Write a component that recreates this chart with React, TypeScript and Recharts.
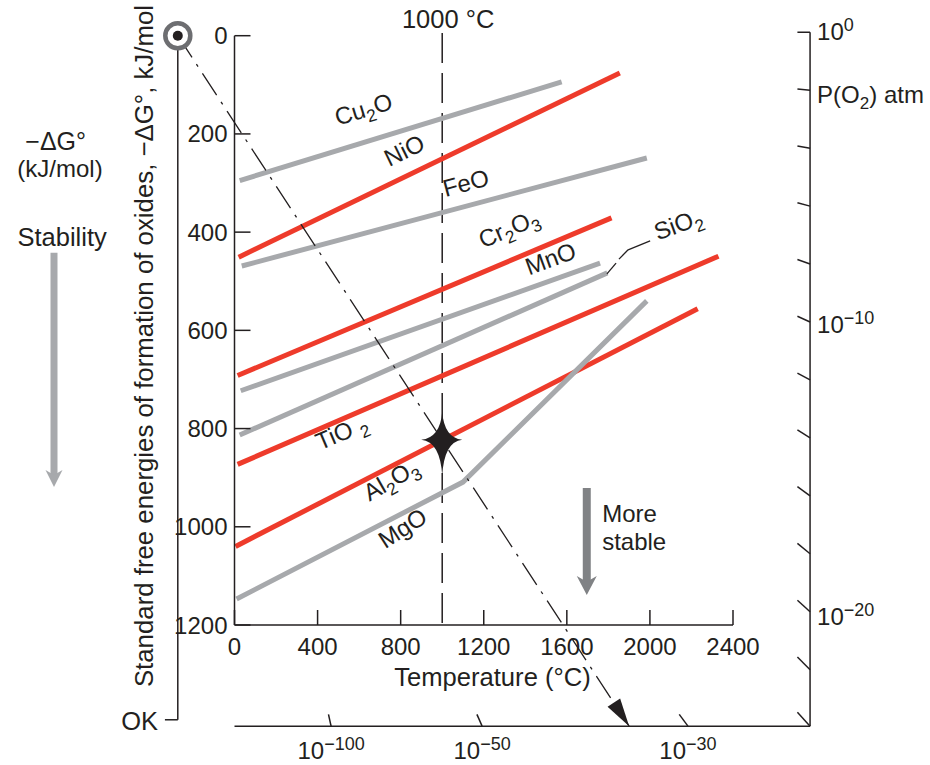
import React from 'react';
import { ComposedChart, Line, XAxis, YAxis, ReferenceLine, ReferenceDot } from 'recharts';

const FONT = '"Liberation Sans", Arial, Helvetica, sans-serif';
const INK = '#231f20';
const RED = '#ee3b2b';
const GREY = '#a7a9ac';

// Axis ticks
const tempTicks = [0, 400, 800, 1200, 1600, 2000, 2400];
const energyTicks = [0, 200, 400, 600, 800, 1000, 1200];

// Oxide lines: T (°C) vs -ΔG° (kJ/mol O2)
const cu2o = [{ T: 25, G: 295 }, { T: 1575, G: 94 }];
const nio = [{ T: 20, G: 451 }, { T: 1855, G: 76 }];
const feo = [{ T: 35, G: 469 }, { T: 1985, G: 249 }];
const cr2o3 = [{ T: 15, G: 692 }, { T: 1815, G: 371 }];
const mno = [{ T: 30, G: 723 }, { T: 1760, G: 463 }];
const sio2 = [{ T: 25, G: 813 }, { T: 1795, G: 483 }];
const tio2 = [{ T: 15, G: 873 }, { T: 2330, G: 449 }];
const al2o3 = [{ T: 5, G: 1040 }, { T: 2230, G: 556 }];
const mgo = [{ T: 10, G: 1147 }, { T: 1100, G: 909 }, { T: 1985, G: 540 }];

// Nomogram: origin at 0 K, P(O2) scales
const zeroK = -273;
const starPoint = { T: 1000, G: 823 };
const rayEnd = { T: 1900, G: 1406 };
const po2RightT = 2771;
const po2BottomG = 1406;
const po2RightTicksG = [-7, 111, 229, 347, 465, 583, 701, 819, 937, 1055, 1173, 1291, 1406];
const po2BottomTicksT = [465, 1192, 2183];
const po2BottomLabels = ['−100', '−50', '−30'];

const series = [
  { name: 'Cu2O', data: cu2o, color: GREY },
  { name: 'NiO', data: nio, color: RED },
  { name: 'FeO', data: feo, color: GREY },
  { name: 'Cr2O3', data: cr2o3, color: RED },
  { name: 'MnO', data: mno, color: GREY },
  { name: 'SiO2', data: sio2, color: GREY },
  { name: 'TiO2', data: tio2, color: RED },
  { name: 'Al2O3', data: al2o3, color: RED },
  { name: 'MgO', data: mgo, color: GREY },
];

type Part = [string, boolean?];
const oxideLabels: { parts: Part[]; T: number; G: number; angle: number }[] = [
  { parts: [['Cu'], ['2', true], ['O']], T: 633, G: 166, angle: -17 },
  { parts: [['NiO']], T: 835, G: 249, angle: -26 },
  { parts: [['FeO']], T: 1124, G: 316, angle: -15 },
  { parts: [['Cr'], ['2', true], ['O'], ['3', true]], T: 1336, G: 408, angle: -23 },
  { parts: [['MnO']], T: 1535, G: 470, angle: -20 },
  { parts: [['SiO'], ['2', true]], T: 2150, G: 400, angle: -20 },
  { parts: [['TiO '], ['2', true]], T: 532, G: 823, angle: -23 },
  { parts: [['Al'], ['2', true], ['O'], ['3', true]], T: 773, G: 919, angle: -30 },
  { parts: [['MgO']], T: 831, G: 1017, angle: -33 },
];

const chem = (parts: Part[], size: number) => {
  let shifted = false;
  return parts.map(([s, sub], i) => {
    if (sub) {
      const el = (
        <tspan key={i} dy={shifted ? 0 : 6} fontSize={size * 0.72}>
          {s}
        </tspan>
      );
      shifted = true;
      return el;
    }
    const el = (
      <tspan key={i} dy={shifted ? -6 : 0}>
        {s}
      </tspan>
    );
    shifted = false;
    return el;
  });
};

const sup = (base: string, exp: string) => [
  <tspan key="b">{base}</tspan>,
  <tspan key="e" dy={-9} fontSize={18}>
    {exp}
  </tspan>,
];

const note = (
  key: string,
  T: number,
  G: number,
  content: React.ReactNode,
  opts: { anchor?: string; rotate?: number; size?: number; dy?: string } = {}
) => (
  <ReferenceDot
    key={key}
    x={T}
    y={G}
    r={0}
    ifOverflow="visible"
    shape={(p: any) => (
      <text
        x={p.cx}
        y={p.cy}
        dy={opts.dy || 0}
        textAnchor={opts.anchor || 'middle'}
        fontSize={opts.size || 24}
        fontFamily={FONT}
        fill={INK}
        transform={opts.rotate ? `rotate(${opts.rotate} ${p.cx} ${p.cy})` : undefined}
      >
        {content}
      </text>
    )}
  />
);

const seg = (key: string, pts: { x: number; y: number }[], style: any) => (
  <ReferenceLine key={key} segment={pts as any} ifOverflow="visible" {...style} />
);

const towardOrigin = (T: number, G: number, f: number) => ({ x: T + (zeroK - T) * f, y: G * (1 - f) });

const XTick = (p: any) => {
  const { x, y, payload } = p;
  return (
    <g>
      <line x1={x} x2={x} y1={y} y2={y - 15} stroke={INK} strokeWidth={1.5} />
      <text x={x} y={y + 30} textAnchor="middle" fontSize={24} fontFamily={FONT} fill={INK}>
        {payload.value}
      </text>
    </g>
  );
};

const YTick = (p: any) => {
  const { x, y, payload } = p;
  return (
    <g>
      <line x1={x} x2={x + 16} y1={y} y2={y} stroke={INK} strokeWidth={1.5} />
      <text x={x - 7} y={y + 8.5} textAnchor="end" fontSize={24} fontFamily={FONT} fill={INK}>
        {payload.value}
      </text>
    </g>
  );
};

const downHead = (key: string, T: number, G: number, half: number, len: number, color: string) => (
  <ReferenceDot
    key={key}
    x={T}
    y={G}
    r={0}
    ifOverflow="visible"
    shape={(p: any) => (
      <polygon
        points={`${p.cx},${p.cy} ${p.cx - half},${p.cy - len} ${p.cx},${p.cy - len * 0.7} ${p.cx + half},${p.cy - len}`}
        fill={color}
      />
    )}
  />
);

export default function App() {
  const thin = { stroke: INK, strokeWidth: 1.5 };
  return (
    <div style={{ width: 930, height: 765, background: '#fff' }}>
      <style>{'body{margin:0;}'}</style>
      <ComposedChart width={930} height={765} margin={{ top: 35.7, right: 197, bottom: 100, left: 174.5 }}>
        <XAxis
          type="number"
          dataKey="T"
          domain={[0, 2400]}
          ticks={tempTicks}
          interval={0}
          allowDataOverflow
          height={40}
          tickSize={0}
          tickMargin={0}
          tickLine={false}
          tick={XTick}
          axisLine={{ stroke: INK, strokeWidth: 1.5 }}
        />
        <YAxis
          type="number"
          dataKey="G"
          domain={[0, 1200]}
          reversed
          ticks={energyTicks}
          interval={0}
          allowDataOverflow
          width={60}
          tickSize={0}
          tickMargin={0}
          tickLine={false}
          tick={YTick}
          axisLine={{ stroke: INK, strokeWidth: 1.5 }}
        />

        {/* 1000 °C line */}
        {seg('t1000', [{ x: 1000, y: -5.5 }, { x: 1000, y: 1200 }], { ...thin, strokeDasharray: '30 10' })}
        {note('t1000lbl', 806, -15.7, '1000 °C', { anchor: 'start', size: 25.5 })}

        {series.map((s) => (
          <Line
            key={s.name}
            data={s.data}
            dataKey="G"
            type="linear"
            stroke={s.color}
            strokeWidth={5}
            dot={false}
            activeDot={false}
            isAnimationActive={false}
          />
        ))}

        {/* 0 K axis and ray */}
        {seg('zk', [{ x: zeroK, y: 0 }, { x: zeroK, y: 1393 }], thin)}
        {seg('zkt', [{ x: zeroK, y: 1393 }, { x: -335, y: 1393 }], thin)}
        {note('ok', -368, 1414, 'OK', { anchor: 'end', size: 25.5 })}
        {seg('ray', [{ x: zeroK, y: 0 }, { x: rayEnd.T, y: rayEnd.G }], {
          stroke: INK,
          strokeWidth: 1.3,
          strokeDasharray: '26 8 3 8',
        })}
        <ReferenceDot
          x={rayEnd.T}
          y={rayEnd.G}
          r={0}
          ifOverflow="visible"
          shape={(p: any) => (
            <polygon points="0,0 -28,-7.5 -28,7.5" fill={INK} transform={`translate(${p.cx} ${p.cy}) rotate(56.9)`} />
          )}
        />

        {/* P(O2) scales */}
        {seg('rax', [{ x: po2RightT, y: po2RightTicksG[0] }, { x: po2RightT, y: po2BottomG }], thin)}
        {seg('bax', [{ x: 0, y: po2BottomG }, { x: po2RightT, y: po2BottomG }], thin)}
        {po2RightTicksG.map((g, i) =>
          seg('rt' + i, [{ x: po2RightT, y: g }, towardOrigin(po2RightT, g, 0.02)], thin)
        )}
        {po2BottomTicksT.map((t, i) =>
          seg('bt' + i, [{ x: t, y: po2BottomG }, towardOrigin(t, po2BottomG, 0.017)], thin)
        )}
        {po2BottomTicksT.map((t, i) => note('bl' + i, t, 1473, sup('10', po2BottomLabels[i])))}
        {note('r0', 2805, 9, sup('10', '0'), { anchor: 'start' })}
        {note(
          'rP',
          2805,
          138,
          [
            <tspan key="a">P(O</tspan>,
            <tspan key="b" dy={6} fontSize={17}>
              2
            </tspan>,
            <tspan key="c" dy={-6}>
              ) atm
            </tspan>,
          ],
          { anchor: 'start' }
        )}
        {note('r10', 2805, 605, sup('10', '−10'), { anchor: 'start' })}
        {note('r20', 2805, 1200, sup('10', '−20'), { anchor: 'start' })}

        {/* Oxide labels */}
        {oxideLabels.map((l, i) => note('ox' + i, l.T, l.G, chem(l.parts, 24), { rotate: l.angle, dy: '0.35em' }))}
        {seg('sil1', [{ x: 1793, y: 485 }, { x: 1837, y: 463 }], { stroke: INK, strokeWidth: 1.3 })}
        {seg('sil2', [{ x: 1851, y: 455 }, { x: 1895, y: 436 }], { stroke: INK, strokeWidth: 1.3 })}
        {seg('sil3', [{ x: 1895, y: 436 }, { x: 2001, y: 418 }], { stroke: INK, strokeWidth: 1.3 })}

        {/* Axis titles and notes */}
        {note('ytitle', -392, 632, 'Standard free energies of formation of oxides, −ΔG°, kJ/mol', {
          rotate: -90,
          size: 25.8,
        })}
        {note('xtitle', 1242, 1324, 'Temperature (°C)', { size: 25.6 })}
        {note('dg', -861, 233, '−ΔG°', { size: 25 })}
        {note('kj', -840, 288, '(kJ/mol)')}
        {note('stab', -830, 428, 'Stability', { size: 25.5 })}
        {seg('stabArrow', [{ x: -869, y: 442 }, { x: -869, y: 897 }], { stroke: GREY, strokeWidth: 7 })}
        {downHead('stabHead', -869, 919, 8.5, 17, GREY)}
        {note('more', 1770, 990, 'More', { anchor: 'start' })}
        {note('stable', 1770, 1047, 'stable', { anchor: 'start' })}
        {seg('moreArrow', [{ x: 1696, y: 921 }, { x: 1696, y: 1114 }], { stroke: '#808285', strokeWidth: 8 })}
        {downHead('moreHead', 1696, 1139, 10, 19, '#808285')}

        {/* origin marker and star */}
        <ReferenceDot
          x={zeroK}
          y={0}
          r={0}
          ifOverflow="visible"
          shape={(p: any) => (
            <g>
              <circle cx={p.cx} cy={p.cy} r={12.5} fill="#fff" stroke="#6d6e71" strokeWidth={4.5} />
              <circle cx={p.cx} cy={p.cy} r={5} fill={INK} />
            </g>
          )}
        />
        <ReferenceDot
          x={starPoint.T}
          y={starPoint.G}
          r={0}
          ifOverflow="visible"
          shape={(p: any) => (
            <path
              transform={`translate(${p.cx} ${p.cy})`}
              d="M0,-28 Q2,-2 20,0 Q2,2 0,36 Q-2,2 -21,0 Q-2,-2 0,-28 Z"
              fill={INK}
            />
          )}
        />
      </ComposedChart>
    </div>
  );
}
